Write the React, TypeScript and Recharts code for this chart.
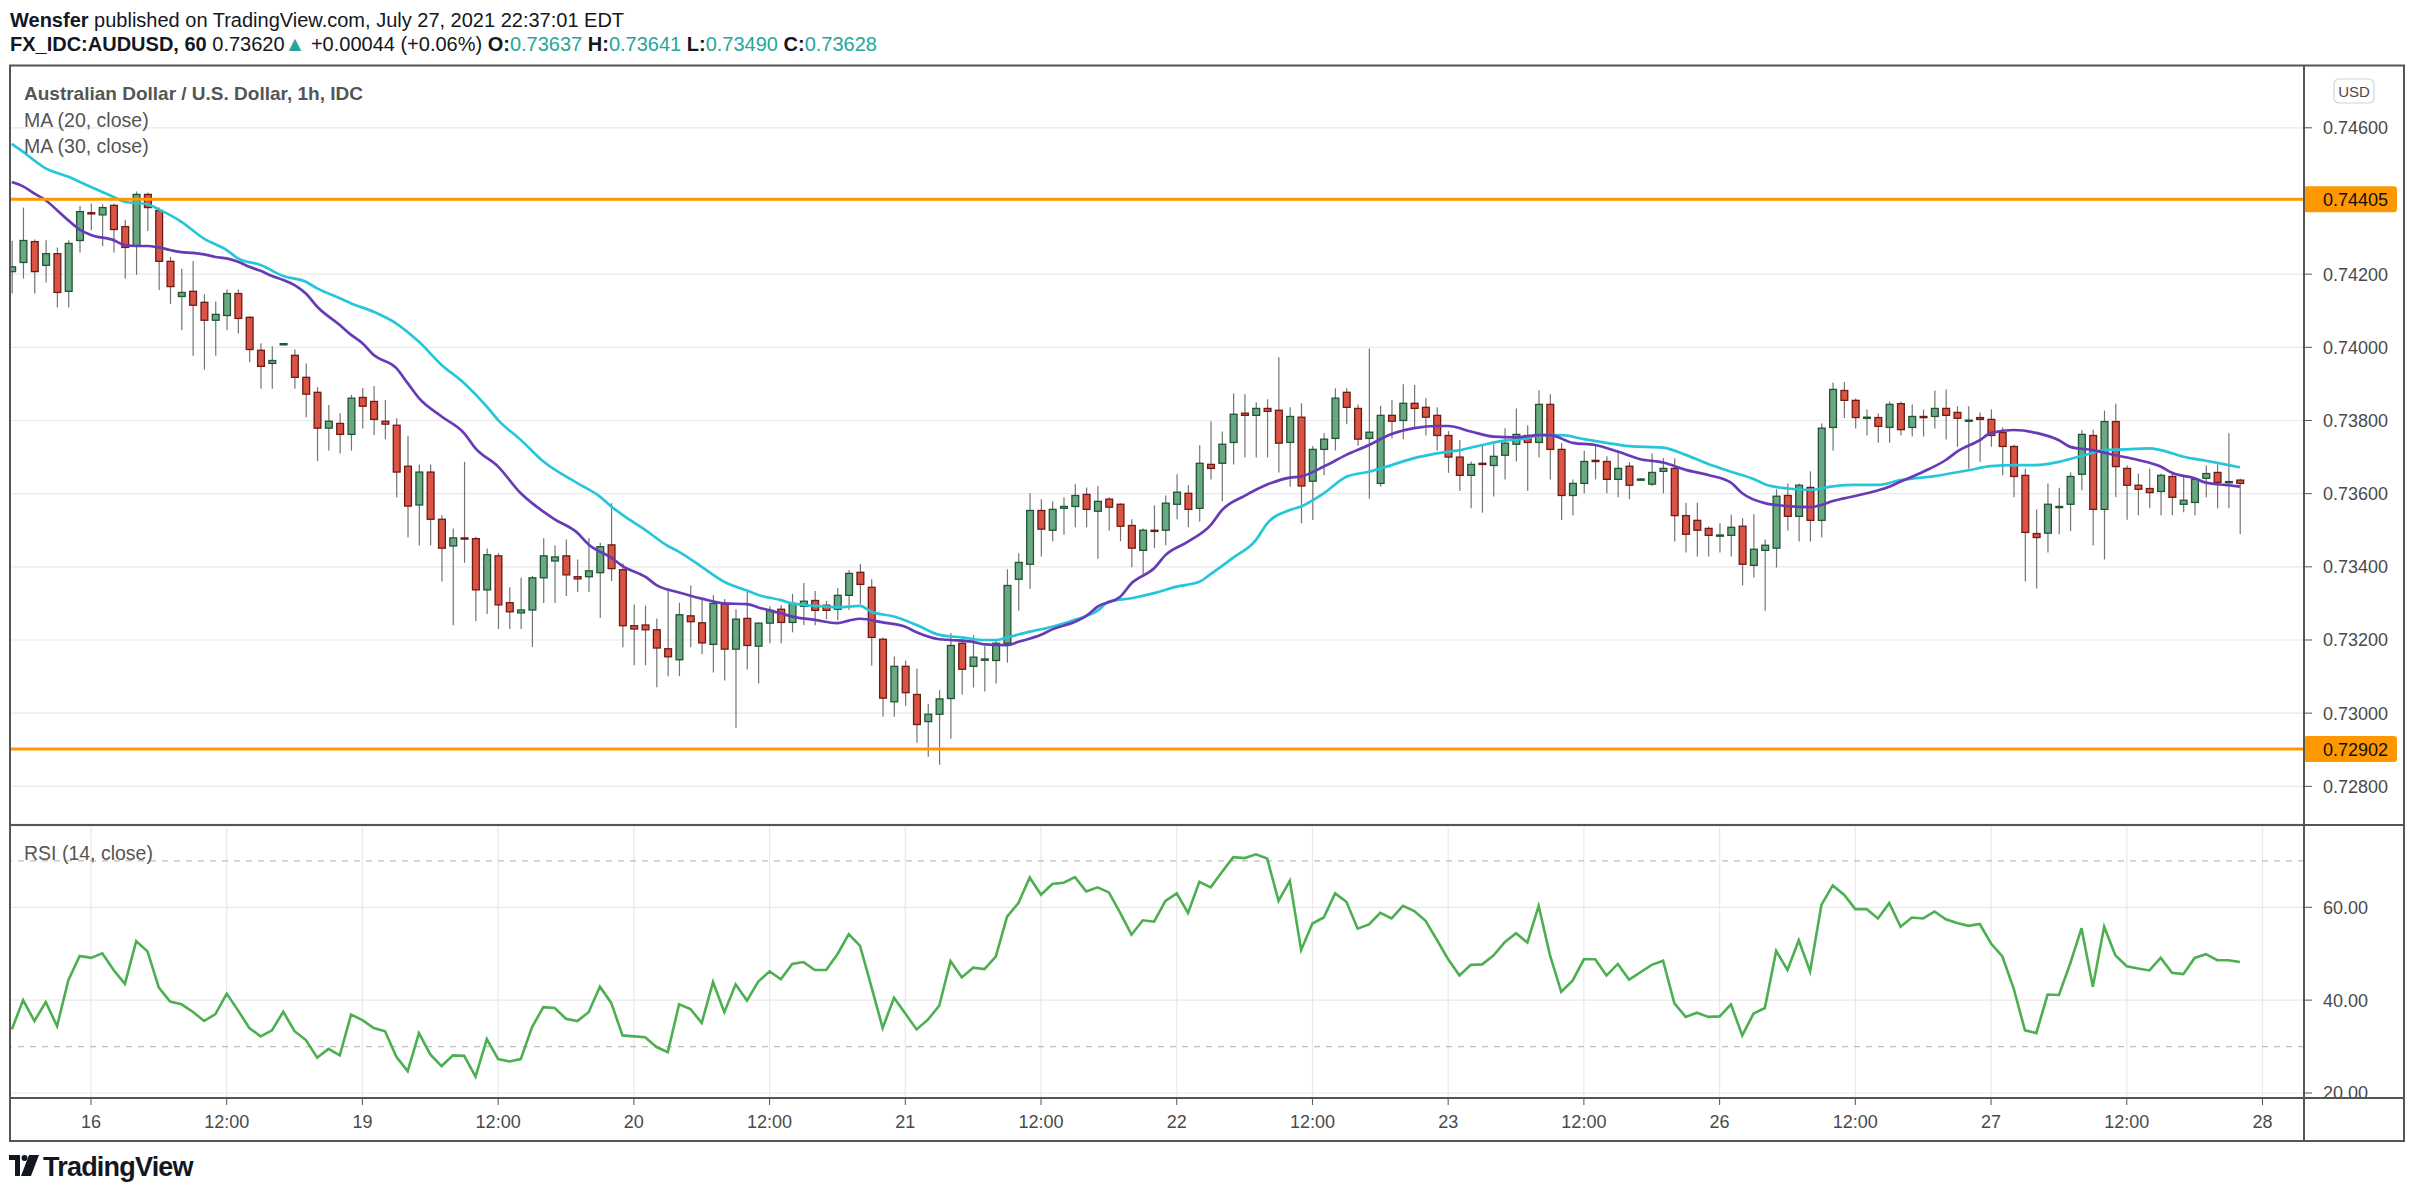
import React from "react";
import { ComposedChart, Bar, Line, XAxis, YAxis, CartesianGrid, ReferenceLine } from "recharts";

// AUD/USD 1h, bar 0 = Jul 15 17:00, bar 197 = Jul 27 22:00
const opens = [
  0.74207, 0.74232, 0.74289, 0.74224, 0.74256, 0.74153, 0.74292, 0.74368, 0.74362, 0.74388,
  0.7433, 0.74278, 0.74418, 0.74374, 0.74235, 0.74139, 0.74153, 0.74123, 0.74074, 0.74087,
  0.74147, 0.74082, 0.73992, 0.73956, 0.74008, 0.73978, 0.73918, 0.73877, 0.73779, 0.73792,
  0.73762, 0.73863, 0.73852, 0.73798, 0.73787, 0.73675, 0.73569, 0.73659, 0.7353, 0.73457,
  0.73479, 0.73477, 0.73337, 0.7343, 0.73302, 0.73274, 0.73282, 0.7337, 0.73416, 0.7343,
  0.73373, 0.73373, 0.73384, 0.7346, 0.73392, 0.73239, 0.73241, 0.73228, 0.73176, 0.73146,
  0.73266, 0.73247, 0.73188, 0.73298, 0.73175, 0.73259, 0.73183, 0.73246, 0.73284, 0.73248,
  0.73292, 0.73308, 0.73295, 0.73284, 0.73322, 0.73385, 0.73344, 0.73202, 0.73031, 0.73128,
  0.73051, 0.72977, 0.72997, 0.7304, 0.73191, 0.73128, 0.73146, 0.73144, 0.73191, 0.73366,
  0.73407, 0.73554, 0.735, 0.7356, 0.73565, 0.73598, 0.73552, 0.73585, 0.73571, 0.73513,
  0.73445, 0.735, 0.735, 0.73571, 0.73601, 0.7356, 0.7368, 0.73683, 0.7374, 0.7382,
  0.73814, 0.73833, 0.73828, 0.7374, 0.73809, 0.73634, 0.73721, 0.73751, 0.73877, 0.73833,
  0.73751, 0.73628, 0.73814, 0.738, 0.73847, 0.73836, 0.73814, 0.73759, 0.737, 0.7365,
  0.73683, 0.73677, 0.73705, 0.73735, 0.73759, 0.7374, 0.73844, 0.73721, 0.73595, 0.73628,
  0.73691, 0.73688, 0.73639, 0.73675, 0.73638, 0.73626, 0.73661, 0.73669, 0.7354, 0.73527,
  0.73505, 0.73486, 0.73486, 0.73511, 0.73404, 0.73445, 0.73451, 0.73595, 0.73538, 0.73617,
  0.73527, 0.73781, 0.73882, 0.73855, 0.73807, 0.73808, 0.73781, 0.73846, 0.73781, 0.73811,
  0.73811, 0.73833, 0.73822, 0.738, 0.73808, 0.73803, 0.73767, 0.73729, 0.7365, 0.73491,
  0.73492, 0.73563, 0.73571, 0.73653, 0.73759, 0.73557, 0.73797, 0.73669, 0.73623, 0.73614,
  0.73606, 0.73647, 0.73571, 0.73576, 0.73642, 0.73658, 0.73632, 0.73637,
];

const highs = [
  0.74291, 0.74382, 0.74295, 0.74293, 0.74273, 0.74293, 0.74386, 0.74393, 0.74391, 0.74393,
  0.74349, 0.74426, 0.74423, 0.74382, 0.74247, 0.74215, 0.74236, 0.74145, 0.74125, 0.74158,
  0.74158, 0.74085, 0.74011, 0.74003, 0.74011, 0.73994, 0.73956, 0.73891, 0.73842, 0.7382,
  0.7387, 0.73889, 0.73894, 0.73856, 0.73806, 0.73758, 0.7368, 0.7368, 0.73541, 0.73505,
  0.73687, 0.73482, 0.7345, 0.73438, 0.73344, 0.7337, 0.73375, 0.73478, 0.73458, 0.73475,
  0.7342, 0.73479, 0.73466, 0.73574, 0.7341, 0.73297, 0.73294, 0.73259, 0.73341, 0.73302,
  0.73349, 0.7331, 0.73323, 0.73312, 0.73284, 0.73331, 0.73248, 0.73292, 0.73295, 0.73326,
  0.73356, 0.73334, 0.73307, 0.73342, 0.73391, 0.73408, 0.73366, 0.73207, 0.73155, 0.73144,
  0.73122, 0.73025, 0.73063, 0.73219, 0.73202, 0.73213, 0.73183, 0.732, 0.73393, 0.73437,
  0.73601, 0.73585, 0.73579, 0.7359, 0.73626, 0.73617, 0.7362, 0.7359, 0.73574, 0.7353,
  0.73505, 0.73568, 0.73595, 0.73653, 0.73623, 0.73732, 0.73798, 0.7377, 0.73874, 0.73872,
  0.7385, 0.73858, 0.73973, 0.73836, 0.73847, 0.7373, 0.73765, 0.73888, 0.73888, 0.73844,
  0.73997, 0.7384, 0.73856, 0.73899, 0.73897, 0.73861, 0.73836, 0.73771, 0.73747, 0.73688,
  0.73735, 0.73735, 0.73779, 0.73833, 0.73787, 0.73883, 0.73872, 0.73738, 0.73639, 0.73717,
  0.73735, 0.73702, 0.73713, 0.73686, 0.73642, 0.7371, 0.73697, 0.73697, 0.73575, 0.73575,
  0.7351, 0.73519, 0.73542, 0.73533, 0.73544, 0.73475, 0.73612, 0.73628, 0.73628, 0.73661,
  0.73792, 0.73904, 0.73905, 0.7386, 0.7383, 0.73819, 0.73852, 0.73852, 0.73844, 0.7383,
  0.73882, 0.73885, 0.73839, 0.73839, 0.73822, 0.7383, 0.73781, 0.73734, 0.73668, 0.73557,
  0.73628, 0.73616, 0.73658, 0.73773, 0.73775, 0.73827, 0.73846, 0.73677, 0.73655, 0.73669,
  0.73655, 0.73658, 0.7365, 0.73644, 0.73677, 0.7368, 0.73765, 0.73641,
];

const lows = [
  0.74147, 0.74188, 0.74147, 0.74177, 0.74109, 0.74109, 0.74259, 0.7432, 0.74276, 0.74259,
  0.74188, 0.74198, 0.74318, 0.74157, 0.74119, 0.74047, 0.73977, 0.73939, 0.73977, 0.74047,
  0.74038, 0.73959, 0.73887, 0.73887, 0.74006, 0.73887, 0.73809, 0.73689, 0.73718, 0.7371,
  0.73718, 0.73778, 0.7376, 0.73749, 0.7359, 0.73481, 0.73458, 0.73458, 0.7336, 0.7324,
  0.73411, 0.73251, 0.73271, 0.7323, 0.7323, 0.7323, 0.73181, 0.73301, 0.73301, 0.7332,
  0.73331, 0.73331, 0.7326, 0.73361, 0.7318, 0.73131, 0.73131, 0.73071, 0.73101, 0.73101,
  0.7318, 0.73161, 0.73111, 0.73089, 0.7296, 0.73119, 0.73081, 0.73191, 0.73191, 0.73221,
  0.7324, 0.7324, 0.73257, 0.73254, 0.73282, 0.73298, 0.7313, 0.7299, 0.7299, 0.7302,
  0.72919, 0.72881, 0.72859, 0.7293, 0.73051, 0.7307, 0.73059, 0.73081, 0.73138, 0.7328,
  0.7334, 0.73428, 0.7347, 0.73488, 0.73508, 0.73508, 0.73422, 0.73499, 0.7347, 0.73399,
  0.73379, 0.73451, 0.73459, 0.7353, 0.73508, 0.73524, 0.73639, 0.73579, 0.7368, 0.73699,
  0.73699, 0.73699, 0.73658, 0.73619, 0.73519, 0.73528, 0.7365, 0.73718, 0.7379, 0.73731,
  0.73586, 0.73619, 0.73751, 0.73749, 0.73779, 0.73759, 0.73718, 0.73657, 0.73608, 0.7356,
  0.73548, 0.73592, 0.73639, 0.73688, 0.73608, 0.73699, 0.73639, 0.73528, 0.7354, 0.73601,
  0.73639, 0.73601, 0.7359, 0.73585, 0.73636, 0.73621, 0.73601, 0.73469, 0.73439, 0.73428,
  0.73428, 0.73439, 0.73428, 0.73349, 0.73371, 0.7328, 0.73398, 0.73499, 0.73469, 0.73469,
  0.7348, 0.73718, 0.73807, 0.73778, 0.73759, 0.73739, 0.73739, 0.73759, 0.73756, 0.73756,
  0.73778, 0.73748, 0.73728, 0.73668, 0.73687, 0.73728, 0.7365, 0.7359, 0.7336, 0.73341,
  0.73439, 0.73489, 0.73498, 0.73609, 0.73458, 0.7342, 0.7359, 0.73529, 0.73541, 0.7356,
  0.73541, 0.73541, 0.73549, 0.73541, 0.7359, 0.7356, 0.7356, 0.7349,
];

const closes = [
  0.7422, 0.74292, 0.74207, 0.74256, 0.7415, 0.74284, 0.74371, 0.74366, 0.74382, 0.74322,
  0.74273, 0.74418, 0.74382, 0.74235, 0.74166, 0.7415, 0.74115, 0.74074, 0.7409, 0.74147,
  0.74079, 0.73994, 0.73948, 0.73964, 0.7401, 0.73918, 0.73872, 0.73779, 0.73798, 0.73762,
  0.73861, 0.73839, 0.73803, 0.7379, 0.73659, 0.73566, 0.73659, 0.7353, 0.73451, 0.73479,
  0.73476, 0.73337, 0.73433, 0.73296, 0.73277, 0.73282, 0.7337, 0.7343, 0.73427, 0.73378,
  0.73367, 0.73389, 0.73455, 0.73395, 0.73239, 0.7323, 0.73228, 0.73178, 0.73154, 0.73269,
  0.7325, 0.73192, 0.733, 0.73175, 0.73257, 0.73185, 0.73246, 0.73281, 0.73248, 0.733,
  0.73306, 0.73281, 0.73281, 0.73322, 0.73382, 0.73352, 0.73207, 0.73041, 0.73128, 0.73056,
  0.72969, 0.72997, 0.73039, 0.73185, 0.7312, 0.73153, 0.73148, 0.73191, 0.73349, 0.73412,
  0.73554, 0.73503, 0.73557, 0.73565, 0.73595, 0.73557, 0.73579, 0.73563, 0.73511, 0.73451,
  0.735, 0.73497, 0.73574, 0.73604, 0.73557, 0.73683, 0.73669, 0.73735, 0.73817, 0.73814,
  0.73833, 0.73825, 0.73738, 0.73811, 0.73621, 0.73721, 0.73749, 0.73861, 0.73836, 0.73749,
  0.73768, 0.73814, 0.73798, 0.73847, 0.73833, 0.73809, 0.73759, 0.737, 0.7365, 0.7368,
  0.7368, 0.73702, 0.73738, 0.73762, 0.7374, 0.73844, 0.73721, 0.73595, 0.73628, 0.73688,
  0.73688, 0.73639, 0.73669, 0.73623, 0.7364, 0.73658, 0.73669, 0.7354, 0.73489, 0.735,
  0.73486, 0.73487, 0.73508, 0.73407, 0.73448, 0.73459, 0.73593, 0.73538, 0.73623, 0.73527,
  0.73779, 0.73885, 0.73855, 0.73808, 0.73809, 0.73784, 0.73844, 0.73775, 0.73811, 0.73808,
  0.73833, 0.73814, 0.73806, 0.73801, 0.73803, 0.73759, 0.73729, 0.73647, 0.73494, 0.7348,
  0.73571, 0.73565, 0.73647, 0.73762, 0.73557, 0.73797, 0.73674, 0.73623, 0.73612, 0.73603,
  0.7365, 0.7359, 0.73582, 0.73639, 0.73655, 0.73631, 0.73633, 0.73628,
];

const rsiValues = [
  33.7, 40.0, 35.5, 39.6, 34.4, 44.3, 49.5, 49.1, 50.1, 46.5,
  43.5, 52.7, 50.5, 42.7, 39.7, 39.1, 37.5, 35.5, 37.0, 41.4,
  37.8, 34.0, 32.2, 33.5, 37.5, 33.3, 31.4, 27.6, 29.5, 28.1,
  36.9, 35.7, 34.0, 33.3, 27.8, 24.7, 32.9, 28.3, 25.8, 28.1,
  28.0, 23.5, 31.6, 27.3, 26.8, 27.3, 34.2, 38.5, 38.3, 36.0,
  35.5, 37.4, 42.9, 39.4, 32.4, 32.2, 32.0, 29.9, 28.8, 39.1,
  38.1, 35.1, 43.9, 37.4, 43.4, 39.9, 44.0, 46.2, 44.5, 47.8,
  48.2, 46.5, 46.5, 49.9, 54.2, 51.7, 42.9, 34.0, 40.5, 37.1,
  33.7, 35.8, 38.8, 48.4, 44.9, 47.0, 46.7, 49.4, 58.0, 60.9,
  66.4, 62.7, 65.0, 65.3, 66.5, 63.4, 64.3, 63.2, 58.8, 54.1,
  57.2, 56.9, 61.4, 63.0, 58.8, 65.5, 64.3, 67.6, 70.8, 70.6,
  71.4, 70.5, 61.4, 65.7, 50.8, 56.5, 57.8, 63.0, 61.2, 55.4,
  56.3, 58.8, 57.6, 60.3, 59.2, 57.1, 53.0, 48.8, 45.3, 47.6,
  47.7, 49.6, 52.5, 54.4, 52.4, 60.3, 49.7, 41.8, 44.2, 48.8,
  48.8, 45.3, 47.8, 44.4, 46.0, 47.6, 48.5, 39.3, 36.4, 37.3,
  36.4, 36.5, 39.1, 32.4, 37.1, 38.3, 50.6, 46.5, 52.9, 46.2,
  60.5, 64.7, 62.7, 59.6, 59.6, 57.6, 60.9, 55.8, 57.8, 57.6,
  59.1, 57.4, 56.6, 56.0, 56.4, 52.2, 49.4, 42.5, 33.5, 32.9,
  41.2, 41.1, 47.9, 55.5, 42.9, 55.8, 49.6, 47.3, 46.8, 46.4,
  49.1, 45.9, 45.6, 49.1, 49.9, 48.6, 48.6, 48.2,
];

// moving averages at the bars below: [bar, value]
const ma20Points = [
  [0, 0.74452], [1, 0.7444], [2, 0.7442], [3, 0.74402], [4, 0.74375], [5, 0.74347], [6, 0.74322],
  [7, 0.74307], [9, 0.74293], [10, 0.74279], [11, 0.74277], [12, 0.74277], [13, 0.74273],
  [14, 0.74266], [15, 0.7426], [16, 0.74258], [17, 0.74254], [18, 0.74247], [19, 0.74243],
  [20, 0.74234], [21, 0.7422], [22, 0.74209], [23, 0.74195], [24, 0.74184], [25, 0.7417],
  [26, 0.74147], [27, 0.74111], [29, 0.74061], [30, 0.74034], [31, 0.74011], [32, 0.73979],
  [34, 0.73943], [35, 0.73902], [36, 0.73861], [38, 0.73811], [40, 0.73765], [41, 0.73724],
  [43, 0.73674], [45, 0.73601], [46, 0.73574], [47, 0.73551], [48, 0.7353], [50, 0.73493],
  [51, 0.73461], [53, 0.73425], [54, 0.73402], [56, 0.73373], [57, 0.7335], [59, 0.7333],
  [61, 0.73313], [63, 0.733], [65, 0.73298], [66, 0.73289], [68, 0.73273], [69, 0.73264],
  [71, 0.73255], [73, 0.73246], [74, 0.73253], [75, 0.73258], [77, 0.73248], [79, 0.73236],
  [80, 0.73221], [82, 0.73202], [83, 0.732], [85, 0.73195], [86, 0.73188], [88, 0.73186],
  [89, 0.73195], [91, 0.73214], [92, 0.73229], [94, 0.7325], [95, 0.73266], [96, 0.73291],
  [98, 0.73318], [99, 0.73355], [101, 0.73396], [102, 0.73432], [104, 0.73469], [106, 0.73514],
  [107, 0.73555], [109, 0.73594], [111, 0.73625], [113, 0.73644], [114, 0.73647], [116, 0.73674],
  [118, 0.73706], [120, 0.73733], [122, 0.73763], [124, 0.73779], [126, 0.73785], [127, 0.73785],
  [129, 0.7377], [131, 0.73756], [133, 0.73754], [135, 0.7376], [136, 0.7376], [138, 0.73739],
  [140, 0.73733], [142, 0.73715], [144, 0.73694], [146, 0.73685], [148, 0.73665], [150, 0.73651],
  [152, 0.7363], [153, 0.73601], [155, 0.73574], [157, 0.73566], [159, 0.73563], [160, 0.73569],
  [161, 0.7358], [162, 0.73587], [164, 0.73601], [166, 0.73619], [167, 0.73633], [169, 0.7366],
  [171, 0.73692], [172, 0.73715], [174, 0.73746], [175, 0.73766], [177, 0.73774], [179, 0.73766],
  [181, 0.73746], [182, 0.73728], [184, 0.73719], [186, 0.73705], [188, 0.73692], [190, 0.73674],
  [191, 0.73657], [193, 0.73642], [194, 0.7363], [196, 0.73623], [197, 0.73619],
];

const ma30Points = [
  [0, 0.74556], [1, 0.74534], [3, 0.74489], [5, 0.74466], [7, 0.74438], [9, 0.74411],
  [10, 0.74398], [12, 0.74391], [13, 0.74377], [15, 0.74343], [17, 0.74297], [19, 0.74266],
  [20, 0.74243], [22, 0.74225], [24, 0.74195], [26, 0.74179], [27, 0.74161], [29, 0.74134],
  [30, 0.7412], [32, 0.74097], [34, 0.74065], [36, 0.74015], [38, 0.73952], [40, 0.73902],
  [42, 0.73838], [43, 0.73801], [45, 0.73747], [47, 0.73688], [50, 0.73629], [52, 0.73592],
  [53, 0.73565], [54, 0.73542], [56, 0.73501], [58, 0.73457], [59, 0.73441], [61, 0.734],
  [63, 0.73359], [65, 0.73335], [66, 0.73323], [68, 0.73309], [69, 0.733], [72, 0.73291],
  [73, 0.73289], [75, 0.73293], [76, 0.73277], [78, 0.73264], [80, 0.73241], [82, 0.73214],
  [84, 0.73207], [86, 0.732], [87, 0.732], [88, 0.73207], [90, 0.73223], [92, 0.73236],
  [94, 0.73255], [96, 0.7328], [97, 0.73305], [99, 0.73314], [101, 0.73328], [103, 0.73346],
  [105, 0.73359], [106, 0.7338], [108, 0.73425], [110, 0.73473], [111, 0.73519], [113, 0.73555],
  [114, 0.73565], [116, 0.73601], [118, 0.73646], [120, 0.7366], [122, 0.73678], [124, 0.73697],
  [126, 0.7371], [128, 0.73719], [130, 0.73733], [132, 0.73745], [134, 0.73751], [135, 0.7376],
  [137, 0.7376], [139, 0.73749], [141, 0.73739], [143, 0.7373], [146, 0.73726], [148, 0.73706],
  [150, 0.73681], [152, 0.7366], [154, 0.7364], [155, 0.73626], [157, 0.73614], [159, 0.7361],
  [161, 0.7362], [163, 0.73624], [165, 0.73624], [167, 0.73637], [170, 0.73648], [173, 0.73664],
  [175, 0.73675], [177, 0.73678], [179, 0.73678], [181, 0.73687], [183, 0.73703], [185, 0.73719],
  [187, 0.73721], [189, 0.73724], [190, 0.73719], [192, 0.73701], [194, 0.7369], [196, 0.73678],
  [197, 0.73672],
];

const tickBars = [7, 19, 31, 43, 55, 67, 79, 91, 103, 115, 127, 139, 151, 163, 175, 187, 199];
const tickLabels = ["16", "12:00", "19", "12:00", "20", "12:00", "21", "12:00", "22", "12:00", "23", "12:00", "26", "12:00", "27", "12:00", "28"];
const priceTicks = [0.728, 0.73, 0.732, 0.734, 0.736, 0.738, 0.74, 0.742, 0.746];
const levels = [0.74405, 0.72902];
const rsiTicks = [20, 40, 60];
const rsiBands = [70, 30];

const FONT = "'Liberation Sans', Arial, Helvetica, sans-serif";
const AXIS_TEXT = "#4a4a4a";
const FRAME = "#555555";
const GRID = "#e9e9e9";

const rows = opens.map((o, i) => ({
  i,
  o,
  h: highs[i],
  l: lows[i],
  c: closes[i],
  range: [lows[i], highs[i]],
  rsi: rsiValues[i],
  ma20: null as number | null,
  ma30: null as number | null,
}));
ma20Points.forEach(([b, v]) => { rows[b].ma20 = v; });
ma30Points.forEach(([b, v]) => { rows[b].ma30 = v; });

const xDomain = [-0.16, 202.67];
const priceDomain = [0.72697, 0.74769];
const rsiDomain = [18.92, 77.51];

const Candle = (props: any) => {
  const { x, y, width, height, payload } = props;
  if (x == null || y == null || !payload) return null;
  const { o, h, l, c } = payload;
  const top = Math.min(y, y + height);
  const span = Math.abs(height);
  const k = h - l > 0 ? span / (h - l) : 0;
  const yOf = (v: number) => top + (h - v) * k;
  const up = c >= o;
  const cx = x + width / 2;
  const bTop = yOf(Math.max(o, c));
  const bBot = yOf(Math.min(o, c));
  const bh = Math.max(bBot - bTop, 1.2);
  return (
    <g>
      <line x1={cx} x2={cx} y1={top} y2={top + span} stroke="#747474" strokeWidth={1.2} />
      <rect
        x={cx - 3.4}
        y={bTop}
        width={6.8}
        height={bh}
        fill={up ? "#6aa782" : "#d95444"}
        stroke={up ? "#1f5533" : "#6e1b14"}
        strokeWidth={1.3}
      />
    </g>
  );
};

const LevelTag = (props: any) => {
  const { viewBox, level } = props;
  if (!viewBox) return null;
  const left = viewBox.x + viewBox.width;
  const y = viewBox.y;
  return (
    <g>
      <rect x={left} y={y - 13} width={93} height={26} rx={3} fill="#ff9800" />
      <text x={left + 19} y={y + 6.5} fontSize={18} fontFamily={FONT} fill="#111">
        {level.toFixed(5)}
      </text>
    </g>
  );
};

const xLabel = (v: number) => {
  const k = tickBars.indexOf(v);
  return k >= 0 ? tickLabels[k] : "";
};

export default function App() {
  return (
    <div style={{ position: "absolute", left: 0, top: 0, width: 2415, height: 1199, background: "#fff", fontFamily: FONT }}>
      <div style={{ position: "absolute", left: 10, top: 66 }}>
        <ComposedChart width={2394} height={758} data={rows} margin={{ top: 0, right: 0, bottom: 0, left: 0 }}>
          <CartesianGrid stroke={GRID} strokeWidth={1.2} />
          <XAxis dataKey="i" type="number" domain={xDomain} ticks={tickBars} allowDataOverflow height={0} tick={false} axisLine={false} tickLine={false} interval={0} />
          <YAxis
            orientation="right"
            width={100}
            domain={priceDomain}
            ticks={priceTicks}
            allowDataOverflow
            interval={0}
            tickFormatter={(v: number) => v.toFixed(5)}
            tick={{ fill: AXIS_TEXT, fontSize: 18, fontFamily: FONT }}
            tickSize={8}
            tickMargin={11}
            axisLine={{ stroke: FRAME, strokeWidth: 1.5 }}
            tickLine={{ stroke: FRAME }}
          />
          <Bar dataKey="range" barSize={8} shape={<Candle />} isAnimationActive={false} />
          <Line dataKey="ma30" type="monotone" stroke="#26c6da" strokeWidth={2.7} dot={false} connectNulls isAnimationActive={false} />
          <Line dataKey="ma20" type="monotone" stroke="#673ab7" strokeWidth={2.7} dot={false} connectNulls isAnimationActive={false} />
          {levels.map((lv) => (
            <ReferenceLine key={lv} y={lv} stroke="#ff9800" strokeWidth={3} label={<LevelTag level={lv} />} />
          ))}
        </ComposedChart>
      </div>

      <div style={{ position: "absolute", left: 10, top: 826 }}>
        <ComposedChart width={2394} height={315} data={rows} margin={{ top: 0, right: 0, bottom: 0, left: 0 }}>
          <CartesianGrid stroke={GRID} strokeWidth={1.2} />
          <XAxis
            dataKey="i"
            type="number"
            domain={xDomain}
            ticks={tickBars}
            allowDataOverflow
            interval={0}
            height={43}
            tickFormatter={xLabel}
            tick={{ fill: AXIS_TEXT, fontSize: 18, fontFamily: FONT }}
            tickSize={7}
            tickMargin={10}
            axisLine={{ stroke: FRAME, strokeWidth: 1.5 }}
            tickLine={{ stroke: FRAME }}
          />
          <YAxis
            orientation="right"
            width={100}
            domain={rsiDomain}
            ticks={rsiTicks}
            allowDataOverflow
            interval={0}
            tickFormatter={(v: number) => v.toFixed(2)}
            tick={{ fill: AXIS_TEXT, fontSize: 18, fontFamily: FONT }}
            tickSize={8}
            tickMargin={11}
            axisLine={{ stroke: FRAME, strokeWidth: 1.5 }}
            tickLine={{ stroke: FRAME }}
          />
          {rsiBands.map((b) => (
            <ReferenceLine key={b} y={b} stroke="#bdbdbd" strokeWidth={1.3} strokeDasharray="6 6" />
          ))}
          <Line dataKey="rsi" type="linear" stroke="#4caf50" strokeWidth={2.6} dot={false} isAnimationActive={false} />
        </ComposedChart>
      </div>

      <svg width={2415} height={1199} style={{ position: "absolute", left: 0, top: 0, pointerEvents: "none" }} fontFamily={FONT}>
        <text x={10} y={27} fontSize={20} fill="#131722">
          <tspan fontWeight="bold">Wensfer</tspan>
          <tspan>{" published on TradingView.com, July 27, 2021 22:37:01 EDT"}</tspan>
        </text>
        <text x={10} y={51} fontSize={20} fill="#131722">
          <tspan fontWeight="bold">FX_IDC:AUDUSD, 60</tspan>
          <tspan>{" 0.73620"}</tspan>
          <tspan fill="#26a69a" fontSize={21}>{"\u25B2"}</tspan>
          <tspan>{" +0.00044 (+0.06%) "}</tspan>
          <tspan fontWeight="bold">O:</tspan>
          <tspan fill="#26a69a">{"0.73637 "}</tspan>
          <tspan fontWeight="bold">H:</tspan>
          <tspan fill="#26a69a">{"0.73641 "}</tspan>
          <tspan fontWeight="bold">L:</tspan>
          <tspan fill="#26a69a">{"0.73490 "}</tspan>
          <tspan fontWeight="bold">C:</tspan>
          <tspan fill="#26a69a">0.73628</tspan>
        </text>

        <text x={24} y={100} fontSize={19} fontWeight="bold" fill="#555">Australian Dollar / U.S. Dollar, 1h, IDC</text>
        <text x={24} y={127} fontSize={19.5} fill="#555">MA (20, close)</text>
        <text x={24} y={153} fontSize={19.5} fill="#555">MA (30, close)</text>
        <text x={24} y={860} fontSize={19.5} fill="#555">RSI (14, close)</text>

        <rect x={2334} y={79} width={40} height={24} rx={5} fill="#fff" stroke="#d1d4dc" strokeWidth={1.2} />
        <text x={2354} y={96.5} fontSize={15} textAnchor="middle" fill={AXIS_TEXT}>USD</text>

        <path d="M9 65.5 H2405 M10 65 V1142 M2404 65 V1142 M9 1141 H2405 M10 825 H2404 M10 1098 H2404 M2304 65 V1141" stroke={FRAME} strokeWidth={2} fill="none" />

        <g fill="#131722">
          <path d="M9 1155 H20 V1176 H15 V1160 H9 Z" />
          <circle cx={24.5} cy={1158} r={3} />
          <path d="M29 1155 H39 L31 1176 H21 Z" />
        </g>
        <text x={43} y={1176} fontSize={27} fontWeight="bold" letterSpacing={-0.8} fill="#131722">TradingView</text>
      </svg>
    </div>
  );
}
